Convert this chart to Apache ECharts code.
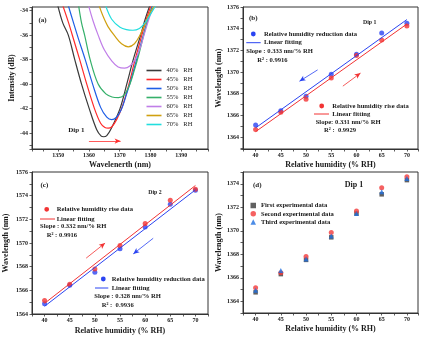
<!DOCTYPE html>
<html>
<head>
<meta charset="utf-8">
<script src="https://cdn.jsdelivr.net/npm/echarts@6/dist/echarts.min.js"></script>
<style>
  html, body { margin: 0; padding: 0; background: #fff; }
  #chart { width: 428px; height: 341px; }
</style>
</head>
<body>
<div id="chart"></div>
<script>
// ---------- data ----------
// (a) transmission spectra around Dip 1: [wavelength (nm), intensity (dB)]
const spectrumNames = ['40%\u00a0\u00a0\u00a0RH', '45%\u00a0\u00a0\u00a0RH', '50%\u00a0\u00a0\u00a0RH', '55%\u00a0\u00a0\u00a0RH',
                       '60%\u00a0\u00a0\u00a0RH', '65%\u00a0\u00a0\u00a0RH', '70%\u00a0\u00a0\u00a0RH'];
const spectrumColors = ['#3a3a3a', '#ff2a2a', '#1e5ee6', '#35b06a', '#c07ee8', '#d0a010', '#22dede'];
const spectrum40 = [[1349.8,-33.5],[1351.5,-35.0],[1353.3,-36.0],[1355.4,-38.0],[1357.6,-40.0],[1360.1,-42.0],
                    [1362.5,-43.7],[1364.0,-44.25],[1364.8,-44.3],[1365.8,-44.2],[1367.3,-43.6],[1370.1,-42.0],
                    [1372.3,-40.0],[1374.4,-38.0],[1376.8,-36.0],[1378.4,-34.6],[1379.9,-33.5]];
const spectrum45 = [[1351.4,-33.5],[1353.4,-35.0],[1355.2,-36.5],[1357.0,-38.0],[1359.3,-40.0],[1361.8,-42.0],
                    [1363.8,-43.2],[1365.2,-43.55],[1366.3,-43.6],[1367.4,-43.5],[1369.0,-42.9],[1370.9,-41.8],
                    [1373.0,-40.0],[1375.0,-38.0],[1377.2,-36.0],[1378.9,-34.5],[1380.3,-33.5]];
const spectrum50 = [[1353.2,-33.5],[1355.0,-35.0],[1356.6,-36.3],[1358.8,-38.0],[1361.2,-40.0],[1363.8,-41.9],
                    [1365.8,-42.7],[1367.4,-42.9],[1368.8,-42.75],[1370.5,-42.1],[1372.0,-41.0],[1373.5,-39.8],
                    [1375.5,-38.0],[1377.7,-36.0],[1379.3,-34.6],[1380.7,-33.5]];
const spectrum55 = [[1356.6,-33.5],[1357.6,-35.0],[1358.6,-36.0],[1360.4,-38.0],[1363.0,-40.0],[1365.5,-40.8],
                    [1367.5,-41.05],[1369.6,-41.1],[1371.4,-40.9],[1373.0,-40.2],[1374.6,-39.0],[1376.3,-37.5],
                    [1378.0,-35.8],[1379.6,-34.4],[1381.0,-33.5]];
const spectrum60 = [[1359.8,-33.5],[1361.3,-34.8],[1363.0,-36.0],[1365.0,-37.2],[1367.4,-38.1],[1369.5,-38.6],
                    [1371.6,-38.7],[1373.4,-38.5],[1375.0,-38.0],[1376.6,-37.1],[1377.9,-36.0],[1379.6,-34.6],
                    [1381.2,-33.5]];
const spectrum65 = [[1363.2,-33.5],[1364.5,-34.4],[1366.2,-35.3],[1368.5,-36.1],[1370.6,-36.7],[1372.8,-36.95],
                    [1374.8,-36.7],[1376.6,-36.0],[1378.2,-35.1],[1379.8,-34.2],[1381.6,-33.5]];
const spectrum70 = [[1365.3,-33.5],[1367.4,-34.7],[1370.1,-35.35],[1372.2,-35.55],[1374.3,-35.6],[1376.4,-35.45],
                    [1378.2,-35.0],[1380.0,-34.3],[1381.9,-33.5]];
const spectra = [spectrum40, spectrum45, spectrum50, spectrum55, spectrum60, spectrum65, spectrum70];

// relative humidity steps (% RH) used in (b)-(d)
const humidity = [40, 45, 50, 55, 60, 65, 70];

// (b) Dip 1 wavelength (nm)
const dip1Reduction = [1365.12, 1366.43, 1367.77, 1369.79, 1371.64, 1373.60, 1374.50];
const dip1Rise      = [1364.70, 1366.28, 1367.50, 1369.45, 1371.52, 1372.96, 1374.24];
const dip1ReductionFit = { slope: 0.333, at40: 1364.85 };
const dip1RiseFit      = { slope: 0.331, at40: 1364.50 };

// (c) Dip 2 wavelength (nm)
const dip2Rise      = [1565.15, 1566.52, 1567.81, 1569.78, 1571.65, 1573.62, 1574.54];
const dip2Reduction = [1564.87, 1566.44, 1567.53, 1569.52, 1571.35, 1573.28, 1574.46];
const dip2RiseFit      = { slope: 0.332, at40: 1564.90 };
const dip2ReductionFit = { slope: 0.328, at40: 1564.65 };

// (d) repeated runs, Dip 1 wavelength (nm)
const runFirst  = [1364.76, 1366.31, 1367.52, 1369.44, 1371.46, 1373.10, 1374.31];
const runSecond = [1365.15, 1366.42, 1367.80, 1369.86, 1371.69, 1373.66, 1374.59];
const runThird  = [1364.93, 1366.62, 1367.60, 1369.55, 1371.46, 1373.32, 1374.45];

// ---------- helpers ----------
const SERIF = '"Liberation Serif", "DejaVu Serif", serif';
const BLUE = '#2a44f2', RED = '#f23333', DARK = '#333333', INK = '#1a1a1a';

const pairs = vals => humidity.map((h, i) => [h, vals[i]]);
const fitLine = f => [[40, f.at40], [70, f.at40 + f.slope * 30]];

function isMultiple(v, step) {
  const r = Math.round(v);
  return Math.abs(v - r) < 1e-6 && r % step === 0;
}
const evenFmt = v => isMultiple(v, 2) ? String(Math.round(v)) : '';
const rhFmt = v => (isMultiple(v, 5) && v >= 40 && v <= 70) ? String(Math.round(v)) : '';
const nmFmt = v => (isMultiple(v, 10) && v >= 1350 && v <= 1390) ? String(Math.round(v)) : '';

function axis(opt) {
  return {
    type: 'value',
    gridIndex: opt.grid,
    min: opt.min, max: opt.max,
    interval: opt.interval,
    splitNumber: opt.splitNumber,
    name: opt.name,
    nameLocation: 'middle',
    nameGap: opt.nameGap,
    nameTextStyle: { fontFamily: SERIF, fontWeight: 'bold', fontSize: 8, color: INK },
    axisLine: { show: true, onZero: false, lineStyle: { color: DARK, width: 1 } },
    axisTick: { show: true, inside: false, length: 2.5, lineStyle: { color: DARK, width: 0.8 } },
    splitLine: { show: false },
    axisLabel: { show: true, formatter: opt.fmt, margin: opt.margin || 3,
                 fontFamily: SERIF, fontWeight: 'bold', fontSize: 6, color: INK,
                 showMinLabel: true, showMaxLabel: true, hideOverlap: false }
  };
}

function txt(x, y, text, size, weight) {
  return { type: 'text', x: x, y: y, silent: true,
           style: { text: text, fill: INK, font: (weight || 'bold') + ' ' + size + 'px ' + SERIF,
                    textVerticalAlign: 'middle', verticalAlign: 'middle' } };
}
const dot = (cx, cy, color) => ({ type: 'circle', silent: true, shape: { cx: cx, cy: cy, r: 2.4 }, style: { fill: color } });
const seg = (x1, x2, y, color) => ({ type: 'line', silent: true, shape: { x1: x1, y1: y, x2: x2, y2: y },
                                     style: { stroke: color, lineWidth: 1 } });

function arrow(from, to, color) {
  return {
    silent: true, symbol: ['none', 'arrow'], symbolSize: [4, 6], animation: false,
    label: { show: false }, lineStyle: { color: color, width: 0.8, type: 'solid' },
    emphasis: { disabled: true },
    data: [[{ coord: from }, { coord: to }]]
  };
}

// ---------- chart ----------
const chart = echarts.init(document.getElementById('chart'), null, { renderer: 'canvas' });

const gridStyle = { show: true, borderColor: DARK, borderWidth: 1, backgroundColor: 'transparent', containLabel: false };
const grids = [
  Object.assign({ left: 32, top: 7, width: 176, height: 142 }, gridStyle),
  Object.assign({ left: 243, top: 7, width: 175, height: 142 }, gridStyle),
  Object.assign({ left: 32, top: 172, width: 176, height: 142 }, gridStyle),
  Object.assign({ left: 243, top: 172, width: 175, height: 141 }, gridStyle)
];

const xAxes = [
  axis({ grid: 0, min: 1341.5, max: 1398.7, splitNumber: 12, fmt: nmFmt, name: 'Wavelenerth (nm)', nameGap: 12 }),
  axis({ grid: 1, min: 37.5, max: 72.2, interval: 2.5, fmt: rhFmt, name: 'Relative humidity (% RH)', nameGap: 12 }),
  axis({ grid: 2, min: 37.5, max: 72.5, interval: 2.5, fmt: rhFmt, name: 'Relative humidity (% RH)', nameGap: 13 }),
  axis({ grid: 3, min: 37.5, max: 72.2, interval: 2.5, fmt: rhFmt, name: 'Relative humidity (% RH)', nameGap: 11.5 })
];
const yAxes = [
  axis({ grid: 0, min: -45.3, max: -33.7, splitNumber: 12, fmt: evenFmt, name: 'Intensity (dB)', nameGap: 16.5, margin: 4 }),
  axis({ grid: 1, min: 1362.9, max: 1376, splitNumber: 13, fmt: evenFmt, name: 'Wavelength (nm)', nameGap: 20, margin: 4 }),
  axis({ grid: 2, min: 1564, max: 1576, interval: 1, fmt: evenFmt, name: 'Wavelength (nm)', nameGap: 22, margin: 4 }),
  axis({ grid: 3, min: 1363, max: 1375, interval: 1, fmt: evenFmt, name: 'Wavelength (nm)', nameGap: 19, margin: 4 })
];

const series = [];

// (a) spectra
spectra.forEach((pts, i) => {
  series.push({
    name: spectrumNames[i], type: 'line', xAxisIndex: 0, yAxisIndex: 0,
    data: pts, symbol: 'none', smooth: 0.35, clip: true,
    color: spectrumColors[i], lineStyle: { color: spectrumColors[i], width: 1.2 },
    markLine: i === 0 ? arrow([1360, -44.65], [1370.3, -44.65], '#ff3030') : undefined
  });
});

// (b) Dip 1 reduction / rise
series.push(
  { name: 'b-reduction', type: 'scatter', xAxisIndex: 1, yAxisIndex: 1, data: pairs(dip1Reduction),
    symbol: 'circle', symbolSize: 5, itemStyle: { color: BLUE } },
  { name: 'b-reduction-fit', type: 'line', xAxisIndex: 1, yAxisIndex: 1, data: fitLine(dip1ReductionFit),
    symbol: 'none', lineStyle: { color: BLUE, width: 1 },
    markLine: arrow([52.3, 1370.2], [48.7, 1369.15], BLUE) },
  { name: 'b-rise', type: 'scatter', xAxisIndex: 1, yAxisIndex: 1, data: pairs(dip1Rise),
    symbol: 'circle', symbolSize: 5, itemStyle: { color: RED } },
  { name: 'b-rise-fit', type: 'line', xAxisIndex: 1, yAxisIndex: 1, data: fitLine(dip1RiseFit),
    symbol: 'none', lineStyle: { color: RED, width: 1 },
    markLine: arrow([57.3, 1368.7], [60.8, 1369.9], RED) }
);

// (c) Dip 2 rise / reduction
series.push(
  { name: 'c-reduction', type: 'scatter', xAxisIndex: 2, yAxisIndex: 2, data: pairs(dip2Reduction),
    symbol: 'circle', symbolSize: 5, itemStyle: { color: BLUE } },
  { name: 'c-reduction-fit', type: 'line', xAxisIndex: 2, yAxisIndex: 2, data: fitLine(dip2ReductionFit),
    symbol: 'none', lineStyle: { color: BLUE, width: 1 },
    markLine: arrow([61.6, 1570.4], [57.64, 1569.08], BLUE) },
  { name: 'c-rise', type: 'scatter', xAxisIndex: 2, yAxisIndex: 2, data: pairs(dip2Rise),
    symbol: 'circle', symbolSize: 5, itemStyle: { color: RED } },
  { name: 'c-rise-fit', type: 'line', xAxisIndex: 2, yAxisIndex: 2, data: fitLine(dip2RiseFit),
    symbol: 'none', lineStyle: { color: RED, width: 1 },
    markLine: arrow([48.27, 1568.72], [52.03, 1569.99], RED) }
);

// (d) three repeated runs
series.push(
  { name: 'First experimental data', type: 'scatter', xAxisIndex: 3, yAxisIndex: 3, data: pairs(runFirst),
    symbol: 'rect', symbolSize: 4.5, itemStyle: { color: '#3a3a3a' } },
  { name: 'Second experimental data', type: 'scatter', xAxisIndex: 3, yAxisIndex: 3, data: pairs(runSecond),
    symbol: 'circle', symbolSize: 5, itemStyle: { color: '#f23a3a' } },
  { name: 'Third experimental data', type: 'scatter', xAxisIndex: 3, yAxisIndex: 3, data: pairs(runThird),
    symbol: 'triangle', symbolSize: 5, itemStyle: { color: '#1f6fe0' } }
);

const legends = [
  { data: spectrumNames, orient: 'vertical', left: 146.5, top: 66.5, padding: 0,
    icon: 'rect', itemWidth: 15, itemHeight: 1.6, itemGap: 1, selectedMode: false,
    textStyle: { fontFamily: SERIF, fontSize: 6.5, color: INK, lineHeight: 8 } },
  { data: ['First experimental data', 'Second experimental data', 'Third experimental data'],
    orient: 'vertical', left: 250.5, top: 202, padding: 0, itemWidth: 5.5, itemHeight: 5.5, itemGap: 1.3,
    selectedMode: false,
    textStyle: { fontFamily: SERIF, fontWeight: 'bold', fontSize: 6.6, color: INK, lineHeight: 7 } }
];

const S = 6.6;
const graphics = [
  // (a)
  txt(38.5, 20, '(a)', 7), txt(68.3, 130, 'Dip 1', 7),
  // (b)
  txt(249, 18.3, '(b)', 7), txt(363, 22.7, 'Dip 1', 5.8),
  dot(253.3, 34, BLUE), txt(264, 34, 'Relative humidity reduction data', S),
  seg(246.3, 260.7, 42.7, BLUE), txt(264, 42.7, 'Linear fitting', S),
  txt(246.3, 51.7, 'Slope : 0.333 nm/% RH', S), txt(257.3, 60.7, 'R\u00b2 : 0.9916', S),
  dot(321.7, 106, RED), txt(332.3, 106, 'Relative humidity rise data', S),
  seg(314, 329, 114, RED), txt(332.3, 114, 'Linear fitting', S),
  txt(315.7, 122, 'Slope: 0.331 nm/% RH', S), txt(324, 130.7, 'R\u00b2 :  0.9929', S),
  // (c)
  txt(40.5, 185, '(c)', 7), txt(148.3, 192.7, 'Dip 2', 5.8),
  dot(46.7, 209.3, RED), txt(56.7, 209.3, 'Relative humidity rise data', S),
  seg(40, 55, 219, RED), txt(56.7, 219, 'Linear fitting', S),
  txt(40, 226.7, 'Slope : 0.332 nm/% RH', S), txt(46.7, 235.7, 'R\u00b2 : 0.9916', S),
  dot(103.3, 279, BLUE), txt(111.7, 279, 'Relative humidity reduction data', S),
  seg(95, 108.3, 288, BLUE), txt(111.7, 288, 'Linear fitting', S),
  txt(94.3, 296.7, 'Slope : 0.328 nm/% RH', S), txt(101.7, 305.7, 'R\u00b2 :  0.9936', S),
  // (d)
  txt(253, 185, '(d)', 7), txt(344.7, 185, 'Dip 1', 8)
];

chart.setOption({
  animation: false,
  backgroundColor: '#ffffff',
  grid: grids,
  xAxis: xAxes,
  yAxis: yAxes,
  legend: legends,
  series: series,
  graphic: graphics
});
</script>
</body>
</html>
